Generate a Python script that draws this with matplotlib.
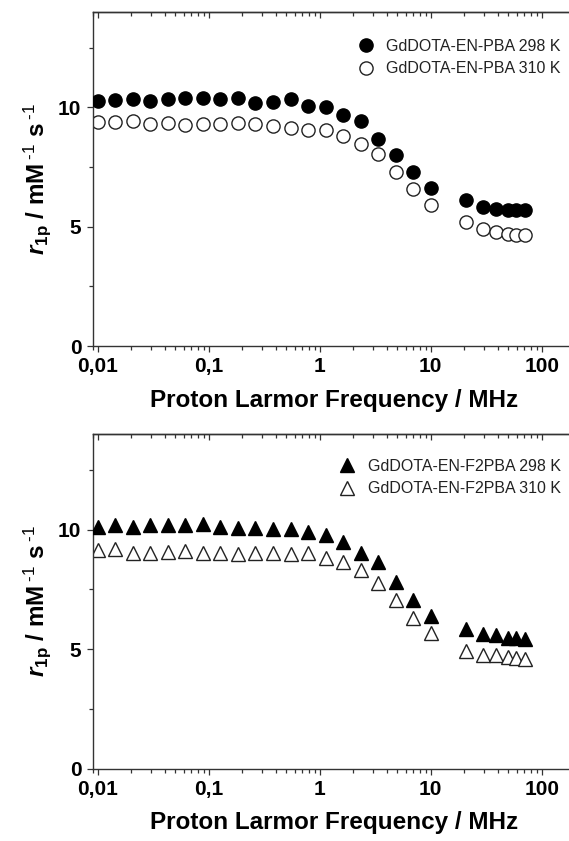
import matplotlib
matplotlib.use("Agg")
import matplotlib.pyplot as plt
from matplotlib.ticker import LogLocator, FixedLocator, FuncFormatter, NullFormatter, MultipleLocator

plt.rcParams['font.family'] = ['Liberation Sans', 'DejaVu Sans']
plt.rcParams['mathtext.fontset'] = 'custom'
plt.rcParams['mathtext.rm'] = 'Liberation Sans'
plt.rcParams['mathtext.bf'] = 'Liberation Sans:bold'
plt.rcParams['mathtext.it'] = 'Liberation Sans:italic:bold'
plt.rcParams['mathtext.bfit'] = 'Liberation Sans:italic:bold'

# ---------------- data ----------------
freq = [0.01, 0.0144, 0.0207, 0.0298, 0.0428, 0.0616, 0.0886, 0.127, 0.183, 0.264,
        0.379, 0.546, 0.785, 1.13, 1.62, 2.34, 3.36, 4.83, 6.95, 10.0,
        21, 29.5, 39, 50, 59, 71]

pba_298 = [10.28, 10.31, 10.33, 10.27, 10.33, 10.37, 10.37, 10.35, 10.39, 10.18,
           10.21, 10.34, 10.06, 10.00, 9.68, 9.43, 8.68, 7.99, 7.29, 6.63,
           6.11, 5.81, 5.76, 5.69, 5.69, 5.69]
pba_310 = [9.40, 9.38, 9.44, 9.31, 9.36, 9.25, 9.28, 9.31, 9.33, 9.28,
           9.22, 9.13, 9.06, 9.06, 8.79, 8.47, 8.03, 7.29, 6.56, 5.90,
           5.21, 4.90, 4.79, 4.68, 4.65, 4.65]

f2pba_298 = [10.11, 10.21, 10.11, 10.18, 10.18, 10.18, 10.24, 10.11, 10.07, 10.07,
             10.04, 10.01, 9.88, 9.76, 9.46, 9.00, 8.63, 7.82, 7.07, 6.40,
             5.85, 5.63, 5.57, 5.46, 5.46, 5.43]
f2pba_310 = [9.14, 9.18, 9.00, 9.03, 9.07, 9.10, 9.03, 9.00, 8.96, 9.03,
             9.00, 8.96, 9.00, 8.82, 8.63, 8.31, 7.75, 7.06, 6.29, 5.67,
             4.93, 4.74, 4.76, 4.65, 4.63, 4.60]

labels_top = ["GdDOTA-EN-PBA 298 K", "GdDOTA-EN-PBA 310 K"]
labels_bot = ["GdDOTA-EN-F2PBA 298 K", "GdDOTA-EN-F2PBA 310 K"]

x_ticks = [0.01, 0.1, 1, 10, 100]
x_ticklabels = ["0,01", "0,1", "1", "10", "100"]
y_ticks = [0, 5, 10]

# ---------------- figure ----------------
W, H = 569, 841
fig = plt.figure(figsize=(W / 100, H / 100), dpi=100)

axw = 482.5 / W
axh = 334.5 / H
ax1 = fig.add_axes([92.6 / W, 1 - 346.2 / H, axw, axh])
ax2 = fig.add_axes([92.6 / W, 1 - 768.5 / H, axw, axh])

spine_col = '#333333'


def style(ax):
    ax.set_xscale('log')
    ax.set_xlim(0.009, 200)
    ax.set_ylim(0, 14)
    ax.xaxis.set_major_locator(FixedLocator(x_ticks))
    ax.xaxis.set_major_formatter(FuncFormatter(lambda v, p: x_ticklabels[x_ticks.index(v)] if v in x_ticks else ""))
    ax.xaxis.set_minor_locator(LogLocator(base=10, subs=range(2, 10), numticks=20))
    ax.xaxis.set_minor_formatter(NullFormatter())
    ax.yaxis.set_major_locator(FixedLocator(y_ticks))
    ax.yaxis.set_minor_locator(MultipleLocator(2.5))
    for s in ax.spines.values():
        s.set_linewidth(1.0)
        s.set_color(spine_col)
    ax.tick_params(which='both', direction='out', color=spine_col, width=0.9,
                   labelsize=15, top=False, right=False)
    ax.tick_params(which='major', length=4.5, pad=3.5)
    ax.tick_params(which='minor', length=3)
    for lab in ax.get_xticklabels() + ax.get_yticklabels():
        lab.set_fontweight('bold')
    sec = ax.secondary_xaxis('top')
    sec.xaxis.set_major_locator(FixedLocator(x_ticks))
    sec.xaxis.set_minor_locator(LogLocator(base=10, subs=range(2, 10), numticks=20))
    sec.tick_params(which='both', direction='in', color=spine_col, width=0.9, labeltop=False)
    sec.tick_params(which='major', length=4.5)
    sec.tick_params(which='minor', length=3)
    sec.spines['top'].set_linewidth(1.0)
    sec.spines['top'].set_color(spine_col)
    ax.set_xlabel('Proton Larmor Frequency / MHz', fontsize=17.5, fontweight='bold', labelpad=9)
    ax.set_ylabel(r'$\mathbfit{r}_{\mathbf{1p}}$ / mM$\,^{\text{-1}}$ s$\,^{\text{-1}}$',
                  fontsize=17.5, fontweight='bold', labelpad=4)


style(ax1)
style(ax2)

ms = 9.5
ax1.plot(freq, pba_298, 'o', ms=ms, mfc='black', mec='black', mew=1.0, label=labels_top[0], zorder=3)
ax1.plot(freq, pba_310, 'o', ms=ms, mfc='white', mec='#222222', mew=1.0, label=labels_top[1], zorder=2)
ax2.plot(freq, f2pba_298, '^', ms=ms + 0.5, mfc='black', mec='black', mew=1.0, label=labels_bot[0], zorder=3)
ax2.plot(freq, f2pba_310, '^', ms=ms + 0.5, mfc='white', mec='#222222', mew=1.0, label=labels_bot[1], zorder=2)

for ax, top in ((ax1, 39), (ax2, 459)):
    leg = ax.legend(loc='upper right', bbox_to_anchor=(561 / W, 1 - top / H),
                    bbox_transform=fig.transFigure, frameon=False, fontsize=11.5,
                    borderpad=0, borderaxespad=0, handlelength=1.0, handletextpad=0.8,
                    labelspacing=0.45, numpoints=1)
    for t in leg.get_texts():
        t.set_color('#222222')

fig.savefig('out.png', dpi=100)
